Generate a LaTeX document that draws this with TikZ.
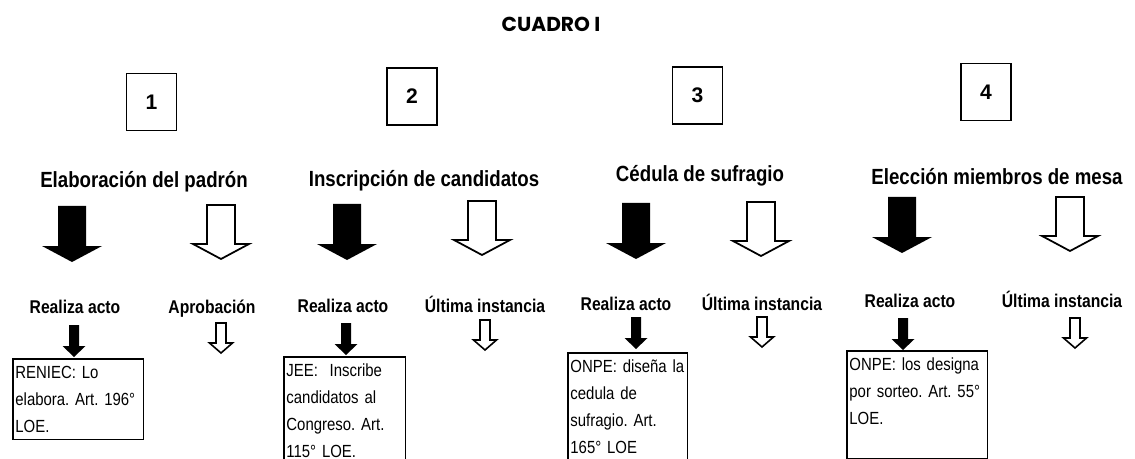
\documentclass[tikz,border=0pt]{standalone}
\usepackage{fontspec}
\setmainfont{Liberation Sans}
\newfontfamily\estrecha{Liberation Sans}[FakeStretch=0.85]
\newfontfamily\cuadrofont{Poppins}
\frenchspacing
\begin{document}
\begin{tikzpicture}[x=0.02cm,y=-0.02cm,
  titulo/.style={font=\cuadrofont\bfseries\fontsize{11.5}{13}\selectfont,anchor=base},
  numero/.style={draw,line width=1pt,minimum width=1cm,minimum height=1.14cm,font=\bfseries\fontsize{12}{14}\selectfont},
  encabezado/.style={font=\estrecha\bfseries\fontsize{12.5}{15}\selectfont,anchor=base},
  etiqueta/.style={font=\estrecha\bfseries\fontsize{10.5}{13}\selectfont,anchor=base},
  caja/.style={draw,line width=0.9pt,anchor=north west,align=left,inner xsep=1.5pt,inner ysep=4pt,font=\estrecha\frenchspacing\fontsize{10}{15.4}\selectfont},
  pics/flechallena/.style={code={\fill (-14,0) -- (14,0) -- (14,40) -- (30,40) -- (0,56) -- (-30,40) -- (-14,40) -- cycle;}},
  pics/flechavacia/.style={code={\draw[line width=1pt] (-14,0) -- (14,0) -- (14,39) -- (28,39) -- (0,54) -- (-28,39) -- (-14,39) -- cycle;}},
  pics/flechita/.style={code={\fill (-5,0) -- (5,0) -- (5,21) -- (11.5,21) -- (0,32) -- (-11.5,21) -- (-5,21) -- cycle;}},
  pics/flechitavacia/.style={code={\draw[line width=0.9pt] (-5,0) -- (5,0) -- (5,20) -- (11.5,20) -- (0,30) -- (-11.5,20) -- (-5,20) -- cycle;}}
]
\useasboundingbox (0,0) rectangle (1135,459);
\clip (0,0) rectangle (1135,459);
\node[titulo] (cuadro) at (551,32) {CUADRO I};
\node[numero] (n1) at (151.5,102) {1};
\node[numero] (n2) at (412,96.5) {2};
\node[numero] (n3) at (697.5,95.5) {3};
\node[numero] (n4) at (986,92) {4};
\node[encabezado] (padron) at (144,188) {Elaboración del padrón};
\node[encabezado] (candidatos) at (424,187) {Inscripción de candidatos};
\node[encabezado] (cedula) at (700,182) {Cédula de sufragio};
\node[encabezado] (mesa) at (997,185) {Elección miembros de mesa};
\pic at (72,206) {flechallena};
\pic at (221,205) {flechavacia};
\pic at (347,204) {flechallena};
\pic at (482,201) {flechavacia};
\pic at (636,203) {flechallena};
\pic at (761,202) {flechavacia};
\pic at (902,197) {flechallena};
\pic at (1070,197) {flechavacia};
\node[etiqueta] (acto1) at (75,313) {Realiza acto};
\node[etiqueta] (aprobacion) at (212,313) {Aprobación};
\node[etiqueta] (acto2) at (343,312) {Realiza acto};
\node[etiqueta] (instancia2) at (485,312) {Última instancia};
\node[etiqueta] (acto3) at (626,310) {Realiza acto};
\node[etiqueta] (instancia3) at (762,310) {Última instancia};
\node[etiqueta] (acto4) at (910,307) {Realiza acto};
\node[etiqueta] (instancia4) at (1062,307) {Última instancia};
\pic at (74,325) {flechita};
\pic at (221,323) {flechitavacia};
\pic at (346,323) {flechita};
\pic at (485,320) {flechitavacia};
\pic at (636,317) {flechita};
\pic at (762,317) {flechitavacia};
\pic at (903,318) {flechita};
\pic at (1075,318) {flechitavacia};
\node[caja,text width=2.51cm] (reniec) at (12,358) {RENIEC: Lo\\elabora. Art. 196°\\LOE.};
\node[caja,text width=2.33cm] (jee) at (283,356) {JEE:\ \ Inscribe\\candidatos al\\Congreso. Art.\\115° LOE.};
\node[caja,text width=2.29cm] (onpe3) at (567,352) {ONPE: diseña la\\cedula de\\sufragio. Art.\\165° LOE};
\node[caja,text width=2.71cm] (onpe4) at (846,350) {ONPE: los designa\\por sorteo. Art. 55°\\LOE.\\\mbox{}};
\end{tikzpicture}
\end{document}
